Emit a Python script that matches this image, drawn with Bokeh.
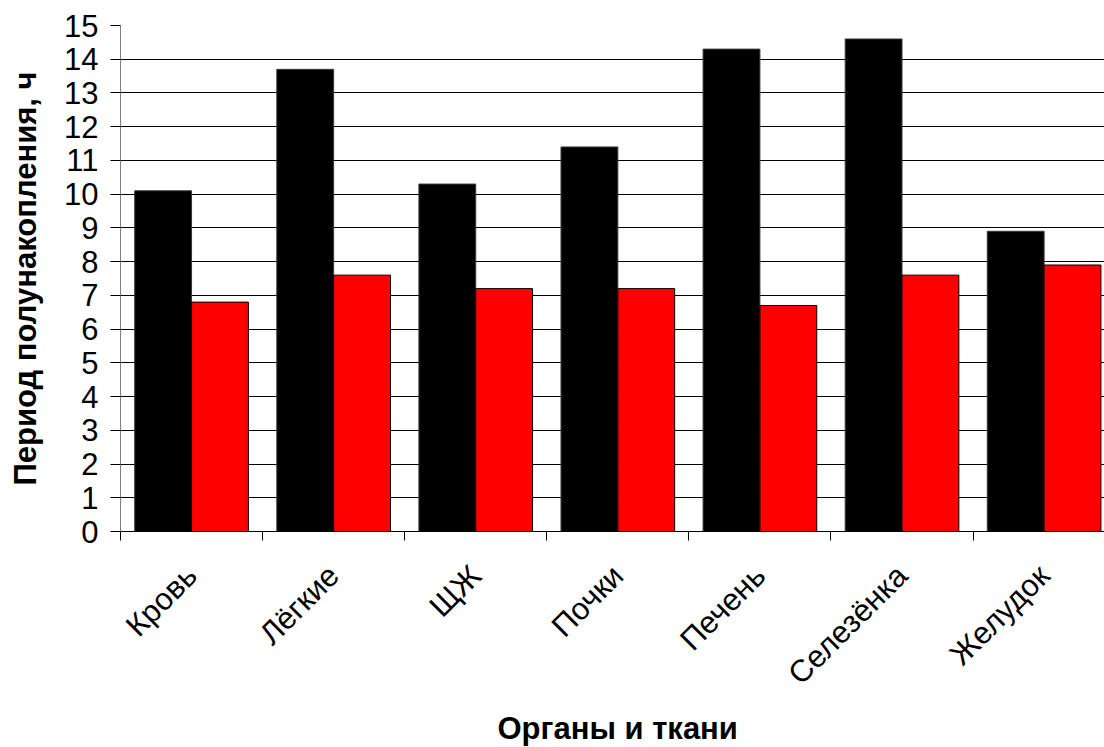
import numpy as np
from math import pi
from bokeh.plotting import figure
from bokeh.models import (ColumnDataSource, Range1d, FixedTicker, Grid, Title)
from bokeh.transform import dodge
from bokeh.embed import file_html
from bokeh.resources import INLINE

categories = ["Кровь", "Лёгкие", "ЩЖ", "Почки", "Печень", "Селезёнка", "Желудок"]
series_black = [10.1, 13.7, 10.3, 11.4, 14.3, 14.6, 8.9]
series_red = [6.8, 7.6, 7.2, 7.2, 6.7, 7.6, 7.9]
y_ticks = list(range(0, 16))

centers = np.arange(len(categories)) + 0.5
src = ColumnDataSource(dict(center=centers, black=series_black, red=series_red))

FONT = "Liberation Sans"

p = figure(width=1104, height=747, output_backend="svg", toolbar_location=None,
           x_range=Range1d(0, 6.925), y_range=Range1d(0, 15),
           min_border_left=120, min_border_top=25, min_border_right=0,
           min_border_bottom=0)
p.outline_line_color = None
p.background_fill_color = "white"
p.border_fill_color = "white"

p.vbar(x=dodge("center", -0.2, range=p.x_range), top="black", width=0.4, bottom=0,
       source=src, fill_color="black", line_color="#3a3a3a", line_width=1)
p.vbar(x=dodge("center", 0.2, range=p.x_range), top="red", width=0.4, bottom=0,
       source=src, fill_color="#ff0000", line_color="black", line_width=1)

# grids
p.xgrid.visible = False
p.ygrid.ticker = FixedTicker(ticks=y_ticks[1:-1])
p.ygrid.grid_line_color = "black"
p.ygrid.grid_line_width = 1
p.add_layout(Grid(dimension=1, ticker=FixedTicker(ticks=[y_ticks[-1]]),
                  grid_line_color="#d9d9d9", grid_line_width=1))
p.ygrid.level = "underlay"

# y axis
ya = p.yaxis[0]
ya.ticker = FixedTicker(ticks=y_ticks)
ya.axis_line_color = "#808080"
ya.major_tick_line_color = "black"
ya.major_tick_out = 10
ya.major_tick_in = 0
ya.minor_tick_line_color = None
ya.major_label_text_font = FONT
ya.major_label_text_font_size = "31px"
ya.major_label_text_color = "black"
ya.major_label_standoff = 12
ya.axis_label = "Период полунакопления, ч"
ya.axis_label_text_font = FONT
ya.axis_label_text_font_style = "bold"
ya.axis_label_text_font_size = "31px"
ya.axis_label_text_color = "black"
ya.axis_label_standoff = 18

# x axis
xa = p.xaxis[0]
xa.ticker = FixedTicker(ticks=list(centers),
                        minor_ticks=list(range(len(categories) + 1)))
xa.major_label_overrides = {float(c): n for c, n in zip(centers, categories)}
xa.major_label_orientation = pi / 4
xa.major_tick_line_color = None
xa.minor_tick_line_color = "black"
xa.minor_tick_out = 9
xa.minor_tick_in = 0
xa.axis_line_color = "black"
xa.major_label_text_font = FONT
xa.major_label_text_font_size = "31px"
xa.major_label_text_color = "black"
xa.major_label_standoff = 30

t = Title(text="Органы и ткани", align="left", offset=377,
          text_font=FONT, text_font_style="bold", text_font_size="31px",
          text_color="black", standoff=4)
p.add_layout(t, "below")

open("out.html", "w").write(file_html(p, INLINE))
